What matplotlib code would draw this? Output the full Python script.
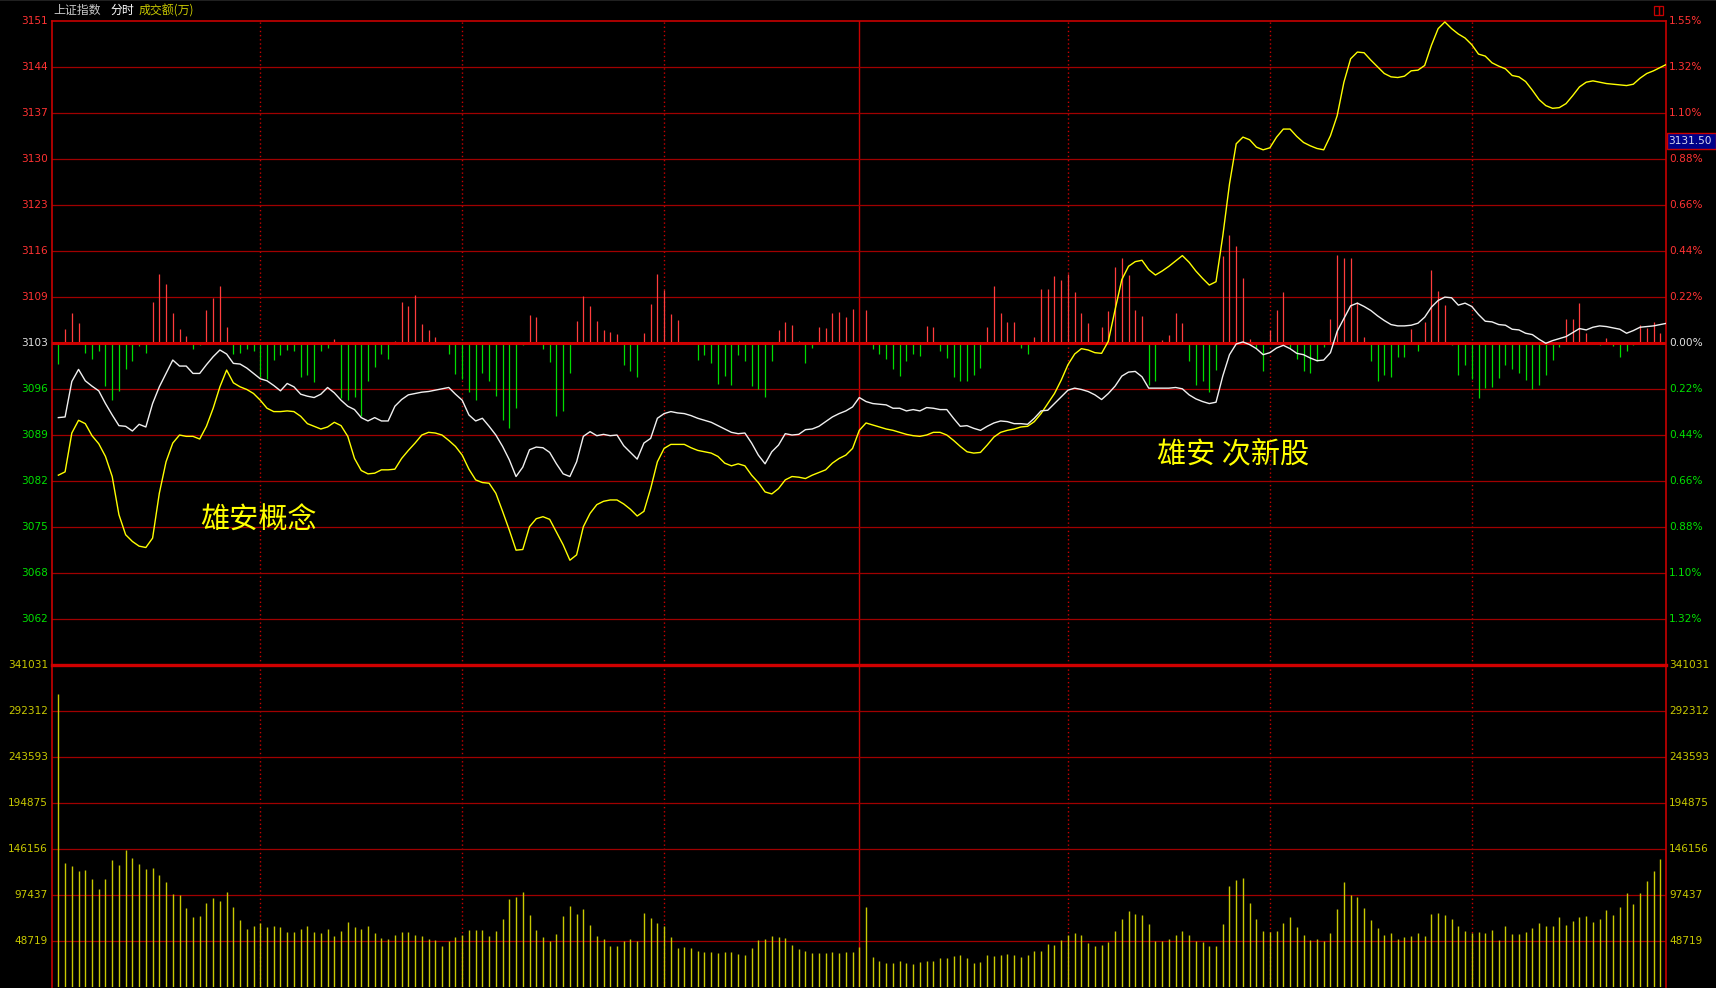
import matplotlib
matplotlib.use("Agg")
import matplotlib.pyplot as plt
from matplotlib.patches import Rectangle
import numpy as np

# ---------------------------------------------------------------
# values (one value per minute, 240 minutes)
# ---------------------------------------------------------------
prev_close = 3103.0
pct_range = 1.55          # % at the top / bottom grid line
price_labels = ['3151', '3144', '3137', '3130', '3123', '3116', '3109',
                '3103', '3096', '3089', '3082', '3075', '3068', '3062']
pct_labels = ['1.55%', '1.32%', '1.10%', '0.88%', '0.66%', '0.44%', '0.22%',
              '0.00%', '0.22%', '0.44%', '0.66%', '0.88%', '1.10%', '1.32%']
vol_step = 48719
vol_labels = ['341031', '292312', '243593', '194875', '146156', '97437', '48719']
dotted_minutes = [30, 60, 90, 150, 180, 210]
noon_minute = 119
last_price = '3131.50'

# 上证指数 (white line)
index_line = [
    3091.9, 3092.0, 3097.3, 3099.1, 3097.4, 3096.6, 3095.9, 3094.0, 3092.3, 3090.7,
    3090.6, 3089.9, 3090.9, 3090.5, 3094.0, 3096.5, 3098.5, 3100.5, 3099.6, 3099.6,
    3098.5, 3098.5, 3099.8, 3101.0, 3102.0, 3101.4, 3100.0, 3099.9, 3099.3, 3098.5,
    3097.7, 3097.4, 3096.7, 3095.9, 3097.0, 3096.5, 3095.4, 3095.1, 3094.9, 3095.4,
    3096.4, 3095.6, 3094.5, 3093.6, 3093.1, 3091.9, 3091.4, 3091.9, 3091.4, 3091.4,
    3093.6, 3094.6, 3095.3, 3095.5, 3095.7, 3095.8, 3096.0, 3096.2, 3096.4, 3095.4,
    3094.5, 3092.3, 3091.4, 3091.8, 3090.6, 3089.3, 3087.6, 3085.6, 3083.1, 3084.5,
    3087.1, 3087.5, 3087.4, 3086.7, 3085.0, 3083.5, 3083.1, 3085.3, 3089.1, 3089.8,
    3089.2, 3089.4, 3089.2, 3089.3, 3087.7, 3086.7, 3085.7, 3088.1, 3088.8, 3091.8,
    3092.5, 3092.8, 3092.6, 3092.5, 3092.2, 3091.8, 3091.5, 3091.2, 3090.7, 3090.2,
    3089.7, 3089.5, 3089.6, 3088.1, 3086.3, 3085.0, 3086.8, 3087.8, 3089.5, 3089.3,
    3089.4, 3090.1, 3090.2, 3090.6, 3091.3, 3092.0, 3092.5, 3092.9, 3093.5, 3094.9,
    3094.3, 3094.0, 3093.9, 3093.8, 3093.3, 3093.3, 3092.9, 3093.1, 3092.9, 3093.4,
    3093.3, 3093.1, 3093.1, 3091.8, 3090.6, 3090.7, 3090.3, 3090.0, 3090.6, 3091.1,
    3091.4, 3091.3, 3091.0, 3091.0, 3090.9, 3091.8, 3092.9, 3093.0, 3094.0, 3095.0,
    3096.0, 3096.3, 3096.1, 3095.8, 3095.3, 3094.6, 3095.5, 3096.6, 3098.1, 3098.7,
    3098.8, 3098.0, 3096.3, 3096.3, 3096.3, 3096.3, 3096.4, 3096.2, 3095.3, 3094.7,
    3094.3, 3094.0, 3094.2, 3098.1, 3101.3, 3102.9, 3103.2, 3102.8, 3102.2, 3101.3,
    3101.6, 3102.3, 3102.7, 3102.2, 3101.5, 3101.3, 3100.8, 3100.4, 3100.5, 3101.6,
    3104.8, 3106.7, 3108.6, 3109.0, 3108.5, 3107.9, 3107.1, 3106.4, 3105.8, 3105.6,
    3105.6, 3105.7, 3106.0, 3106.9, 3108.4, 3109.4, 3109.9, 3109.8, 3108.7, 3109.0,
    3108.5, 3107.3, 3106.3, 3106.2, 3105.8, 3105.7, 3105.1, 3105.0, 3104.5, 3104.3,
    3103.6, 3103.0, 3103.4, 3103.7, 3104.0, 3104.6, 3105.2, 3105.0, 3105.4, 3105.6,
    3105.5, 3105.3, 3105.1, 3104.5, 3104.9, 3105.4, 3105.5, 3105.6, 3105.8, 3106.0,
]

# overlay (yellow line)
overlay_line = [
    3083.3, 3083.8, 3089.6, 3091.5, 3091.0, 3089.2, 3088.0, 3086.1, 3083.1, 3077.4,
    3074.4, 3073.4, 3072.7, 3072.5, 3073.9, 3080.6, 3085.3, 3088.1, 3089.3, 3089.1,
    3089.1, 3088.7, 3090.6, 3093.3, 3096.5, 3099.0, 3097.1, 3096.5, 3096.1, 3095.5,
    3094.5, 3093.3, 3092.8, 3092.8, 3092.9, 3092.8, 3092.1, 3091.0, 3090.6, 3090.2,
    3090.5, 3091.2, 3090.7, 3089.1, 3085.8, 3084.0, 3083.5, 3083.6, 3084.1, 3084.1,
    3084.2, 3085.8, 3087.0, 3088.1, 3089.3, 3089.7, 3089.6, 3089.3, 3088.5, 3087.6,
    3086.3, 3084.2, 3082.6, 3082.2, 3082.1, 3080.6, 3077.9, 3075.1, 3072.1, 3072.2,
    3075.6, 3076.8, 3077.1, 3076.7, 3074.8, 3072.9, 3070.6, 3071.4, 3075.6, 3077.6,
    3078.9, 3079.4, 3079.6, 3079.6, 3079.0, 3078.2, 3077.2, 3077.9, 3081.3, 3085.3,
    3087.3, 3087.9, 3087.9, 3087.9, 3087.4, 3087.0, 3086.8, 3086.6, 3086.1, 3085.1,
    3084.7, 3085.0, 3084.7, 3083.3, 3082.2, 3080.8, 3080.5, 3081.3, 3082.6, 3083.1,
    3083.0, 3082.8, 3083.3, 3083.7, 3084.1, 3085.1, 3085.8, 3086.3, 3087.3, 3090.0,
    3091.1, 3090.8, 3090.5, 3090.2, 3090.0, 3089.7, 3089.4, 3089.2, 3089.1, 3089.3,
    3089.7, 3089.7, 3089.3, 3088.5, 3087.6, 3086.8, 3086.6, 3086.7, 3087.8, 3089.0,
    3089.7, 3090.0, 3090.2, 3090.5, 3090.6, 3091.3, 3092.5, 3094.0, 3095.5, 3097.5,
    3099.8, 3101.4, 3102.2, 3102.0, 3101.6, 3101.5, 3103.3, 3108.0, 3112.5, 3114.5,
    3115.2, 3115.4, 3114.0, 3113.2, 3113.8, 3114.5, 3115.3, 3116.1, 3115.1, 3113.8,
    3112.7, 3111.7, 3112.2, 3119.0, 3126.8, 3132.8, 3133.8, 3133.4, 3132.3, 3131.9,
    3132.2, 3133.8, 3135.0, 3135.0, 3133.9, 3133.0, 3132.5, 3132.1, 3131.9, 3134.0,
    3137.0, 3142.0, 3145.5, 3146.5, 3146.4, 3145.3, 3144.3, 3143.3, 3142.8, 3142.7,
    3142.9, 3143.7, 3143.8, 3144.5, 3147.5, 3150.0, 3151.0, 3150.0, 3149.2, 3148.6,
    3147.6, 3146.2, 3145.9, 3144.9, 3144.4, 3144.0, 3143.0, 3142.8, 3142.1, 3140.8,
    3139.4, 3138.5, 3138.1, 3138.2, 3138.8, 3140.0, 3141.3, 3142.0, 3142.2, 3142.0,
    3141.8, 3141.7, 3141.6, 3141.5, 3141.7, 3142.6, 3143.3, 3143.7, 3144.2, 3144.7,
]

# red / green strength bars, in index points from the previous close
strength = [
    -3.1, 2.2, 4.5, 3.0, -1.4, -2.4, -1.2, -6.4, -8.5, -7.1,
    -3.9, -2.6, -0.4, -1.5, 6.2, 10.4, 8.8, 4.5, 2.1, 1.1,
    -0.8, -0.3, 5.0, 6.8, 8.5, 2.5, -1.6, -1.4, -0.8, -1.2,
    -5.1, -5.3, -2.5, -1.8, -1.0, -1.2, -5.1, -4.8, -5.8, -1.2,
    -0.7, 0.6, -8.1, -8.4, -8.0, -10.9, -5.6, -3.5, -1.6, -2.3,
    0.3, 6.2, 5.6, 7.2, 2.9, 2.0, 0.9, -0.1, -1.6, -4.6,
    -5.4, -7.3, -8.4, -4.4, -5.6, -7.8, -11.5, -12.6, -9.7, -0.3,
    4.3, 4.0, -0.8, -2.8, -10.9, -10.1, -4.4, 3.3, 7.1, 5.6,
    3.4, 2.0, 1.7, 1.4, -3.2, -4.2, -5.0, 1.6, 5.9, 10.4,
    8.0, 4.4, 3.5, 0.1, 0.0, -2.5, -1.7, -2.9, -6.1, -4.9,
    -6.2, -1.7, -2.7, -6.4, -6.9, -8.0, -2.7, 2.0, 3.2, 2.7,
    0.3, -3.0, -0.7, 2.5, 2.3, 4.5, 4.7, 4.0, 5.1, 0.0,
    4.9, -0.9, -1.6, -2.3, -3.9, -4.9, -2.7, -1.6, -1.9, 2.6,
    2.5, -1.1, -2.2, -5.1, -5.6, -5.7, -4.7, -3.7, 2.5, 8.6,
    4.6, 3.2, 3.2, -0.7, -1.6, 0.9, 8.1, 8.1, 10.0, 9.5,
    10.4, 7.6, 4.6, 3.1, 0.1, 2.5, 4.8, 11.4, 12.7, 10.2,
    5.0, 4.1, -6.2, -5.7, 0.5, 1.2, 4.6, 3.1, -2.6, -6.2,
    -5.6, -7.2, -4.0, 13.0, 16.2, 14.5, 9.7, 0.7, -0.7, -4.1,
    2.0, 5.0, 7.7, -0.7, -2.4, -4.1, -4.5, -2.7, -0.5, 3.7,
    13.2, 12.8, 12.8, 6.2, 1.0, -2.6, -5.7, -4.7, -5.0, -2.0,
    -2.1, 2.1, -1.1, 3.2, 11.0, 7.8, 5.7, -0.2, -4.7, -3.2,
    -5.4, -8.2, -6.7, -6.6, -5.2, -3.2, -3.9, -4.4, -5.5, -6.9,
    -6.2, -4.7, -2.5, -0.6, 3.6, 3.6, 6.0, 1.5, 0.2, -0.2,
    0.8, -0.4, -2.1, -1.2, -0.2, 2.7, 2.3, 3.2, 1.5, 0.8,
]

# 成交额(万)
turnover = [
    311000, 131300, 128100, 122800, 123900, 114400, 103800, 114400, 134500, 129200,
    145100, 136600, 130300, 125000, 126000, 118600, 111200, 98500, 97400, 83700,
    74100, 75200, 89000, 94300, 91100, 100600, 84700, 71000, 61400, 64600,
    67800, 63500, 64600, 63500, 58200, 58200, 61400, 64600, 58200, 57200,
    61400, 54000, 59300, 68800, 63500, 61400, 64600, 57200, 51900, 50800,
    55100, 58200, 58200, 55100, 54000, 50800, 49800, 43400, 48700, 53000,
    55100, 60400, 60400, 60400, 54000, 59300, 72000, 93200, 95300, 100600,
    76200, 60400, 53000, 48700, 56100, 75200, 85800, 77300, 82600, 65700,
    54000, 50800, 43400, 43400, 48700, 50800, 48700, 78400, 73100, 67800,
    64600, 53000, 41300, 42400, 41300, 38100, 37100, 37100, 36000, 37100,
    37100, 34900, 33900, 41300, 49800, 50800, 54000, 53000, 51900, 44500,
    40200, 38100, 36000, 36000, 36000, 37100, 36000, 37100, 37100, 42400,
    84700, 31800, 27500, 25400, 25400, 27500, 25400, 24400, 26500, 27500,
    27500, 30700, 30700, 32800, 33900, 30700, 25400, 26500, 33900, 32800,
    33900, 34900, 33900, 31800, 33900, 38100, 38100, 45500, 44500, 49800,
    55100, 57200, 55100, 46600, 43400, 44500, 47700, 59300, 72000, 80500,
    77300, 76200, 66700, 48700, 48700, 50800, 55100, 59300, 55100, 48700,
    47700, 43400, 43400, 66700, 107000, 113300, 115400, 89000, 72000, 59300,
    58200, 59300, 67800, 74100, 63500, 55100, 49800, 50800, 48700, 57200,
    82600, 111200, 97400, 95300, 83700, 71000, 62500, 55100, 57200, 50800,
    53000, 54000, 57200, 54000, 77300, 78400, 76200, 72000, 64600, 59300,
    57200, 58200, 57200, 60400, 49800, 64600, 56100, 56100, 58200, 62500,
    67800, 64600, 64600, 74100, 65700, 69900, 74100, 75200, 68800, 72000,
    81500, 76200, 84700, 99500, 87900, 99500, 112300, 122800, 135600, 189600,
]

# ---------------------------------------------------------------
# layout, in screen pixels of the 1716x988 picture
# ---------------------------------------------------------------
W, H = 1716, 988
L, R = 52.3, 1666.3
TOP, MID, BOT = 21.3, 665.3, 987.3

RED_TXT = '#ff3232'
GRN_TXT = '#00e000'
YEL_TXT = '#c8c800'
GRID = '#a00000'
FRAME = '#c80000'
CJK = ['Noto Sans CJK SC', 'DejaVu Sans']


def fx(x):
    return x / W


def fy(y):
    return 1 - y / H


fig = plt.figure(figsize=(W / 100, H / 100), dpi=100, facecolor='black')
ax = fig.add_axes([fx(L), fy(MID), (R - L) / W, (MID - TOP) / H], facecolor='black')
axv = fig.add_axes([fx(L), fy(BOT), (R - L) / W, (BOT - MID) / H], facecolor='black')

minutes = np.arange(len(index_line))
step = prev_close * pct_range / 100 / 7

for a in (ax, axv):
    a.set_xlim(-0.9, 238.9)
    a.set_xticks([])
    a.set_yticks([])
    for s in ('left', 'right', 'top'):
        a.spines[s].set_color(FRAME)
        a.spines[s].set_linewidth(1.2)
    a.spines['bottom'].set_visible(False)
    for m in dotted_minutes:
        a.axvline(m, color=FRAME, lw=1.0, ls=(0, (1, 2)), zorder=1)
    a.axvline(noon_minute, color=FRAME, lw=1.0, zorder=1)

# ---- price panel ----
ax.set_ylim(prev_close - 7 * step, prev_close + 7 * step)
for k in range(-6, 7):
    if k == 0:
        continue
    ax.axhline(prev_close + k * step, color=GRID, lw=0.9, zorder=1)

strength = np.array(strength)
up = strength > 0
ax.vlines(minutes[up], prev_close, prev_close + strength[up],
          color='#ff3c3c', lw=0.9, zorder=2)
ax.vlines(minutes[~up], prev_close, prev_close + strength[~up],
          color='#00dc00', lw=0.9, zorder=2)
ax.axhline(prev_close, color='#d00000', lw=2.2, zorder=3)

ax.plot(minutes, overlay_line, color='#ffff00', lw=1.0, zorder=4)
ax.plot(minutes, index_line, color='#f0f0f0', lw=1.0, zorder=4)

ytr = ax.get_yaxis_transform()
dl = 4.3 / (R - L)
dr = 3.0 / (R - L)
for i, (lab, pct) in enumerate(zip(price_labels, pct_labels)):
    k = 7 - i
    col = RED_TXT if k > 0 else ('#e0e0e0' if k == 0 else GRN_TXT)
    yv = prev_close + k * step
    ax.text(-dl, yv, lab, transform=ytr, ha='right', va='center',
            fontsize=7.6, color=col, clip_on=False)
    ax.text(1 + dr, yv, pct, transform=ytr, ha='left', va='center',
            fontsize=7.6, color=col, clip_on=False)

# ---- turnover panel ----
axv.set_ylim(0, 7 * vol_step)
axv.spines['top'].set_linewidth(2.4)
axv.spines['top'].set_color('#d00000')
for k in range(1, 7):
    axv.axhline(k * vol_step, color=GRID, lw=0.9, zorder=1)
axv.vlines(minutes, 0, turnover, color=YEL_TXT, lw=1.0, zorder=2)

vtr = axv.get_yaxis_transform()
for i, lab in enumerate(vol_labels):
    yv = (7 - i) * vol_step
    axv.text(-dl, yv, lab, transform=vtr, ha='right', va='center',
             fontsize=7.6, color=YEL_TXT, clip_on=False)
    axv.text(1 + dr, yv, lab, transform=vtr, ha='left', va='center',
             fontsize=7.6, color=YEL_TXT, clip_on=False)

# ---- header, markers and notes ----
fig.patches.append(Rectangle((0, fy(1.5)), 1, 1.5 / H, transform=fig.transFigure,
                             facecolor='#202020', edgecolor='none'))
fig.text(fx(53), fy(10.5), '上证指数', family=CJK, fontsize=8.6,
         color='#c8c8c8', ha='left', va='center')
fig.text(fx(110.5), fy(10.5), '分时', family=CJK, fontsize=8.6,
         color='#ffffff', ha='left', va='center')
fig.text(fx(139), fy(10.5), '成交额(万)', family=CJK, fontsize=8.6,
         color=YEL_TXT, ha='left', va='center')

for x0 in (1654.0, 1658.7):
    fig.patches.append(Rectangle((fx(x0), fy(15.3)), 4.6 / W, 9.3 / H,
                                 transform=fig.transFigure, facecolor='none',
                                 edgecolor=FRAME, lw=0.9))

fig.patches.append(Rectangle((fx(1667), fy(149)), (W - 1667) / W, 15.7 / H,
                             transform=fig.transFigure, facecolor='#000088',
                             edgecolor=FRAME, lw=1.0, zorder=5))
fig.text(fx(1689.7), fy(141.2), last_price, fontsize=7.6, color='#d8d8f0',
         ha='center', va='center', zorder=6)

fig.text(fx(200), fy(521), '雄安概念', family=CJK, fontsize=21,
         color='#ffff00', ha='left', va='center')
fig.text(fx(1157), fy(454), '雄安 次新股', family=CJK, fontsize=21,
         color='#ffff00', ha='left', va='center')

fig.savefig('out.png', dpi=100, facecolor='black')
